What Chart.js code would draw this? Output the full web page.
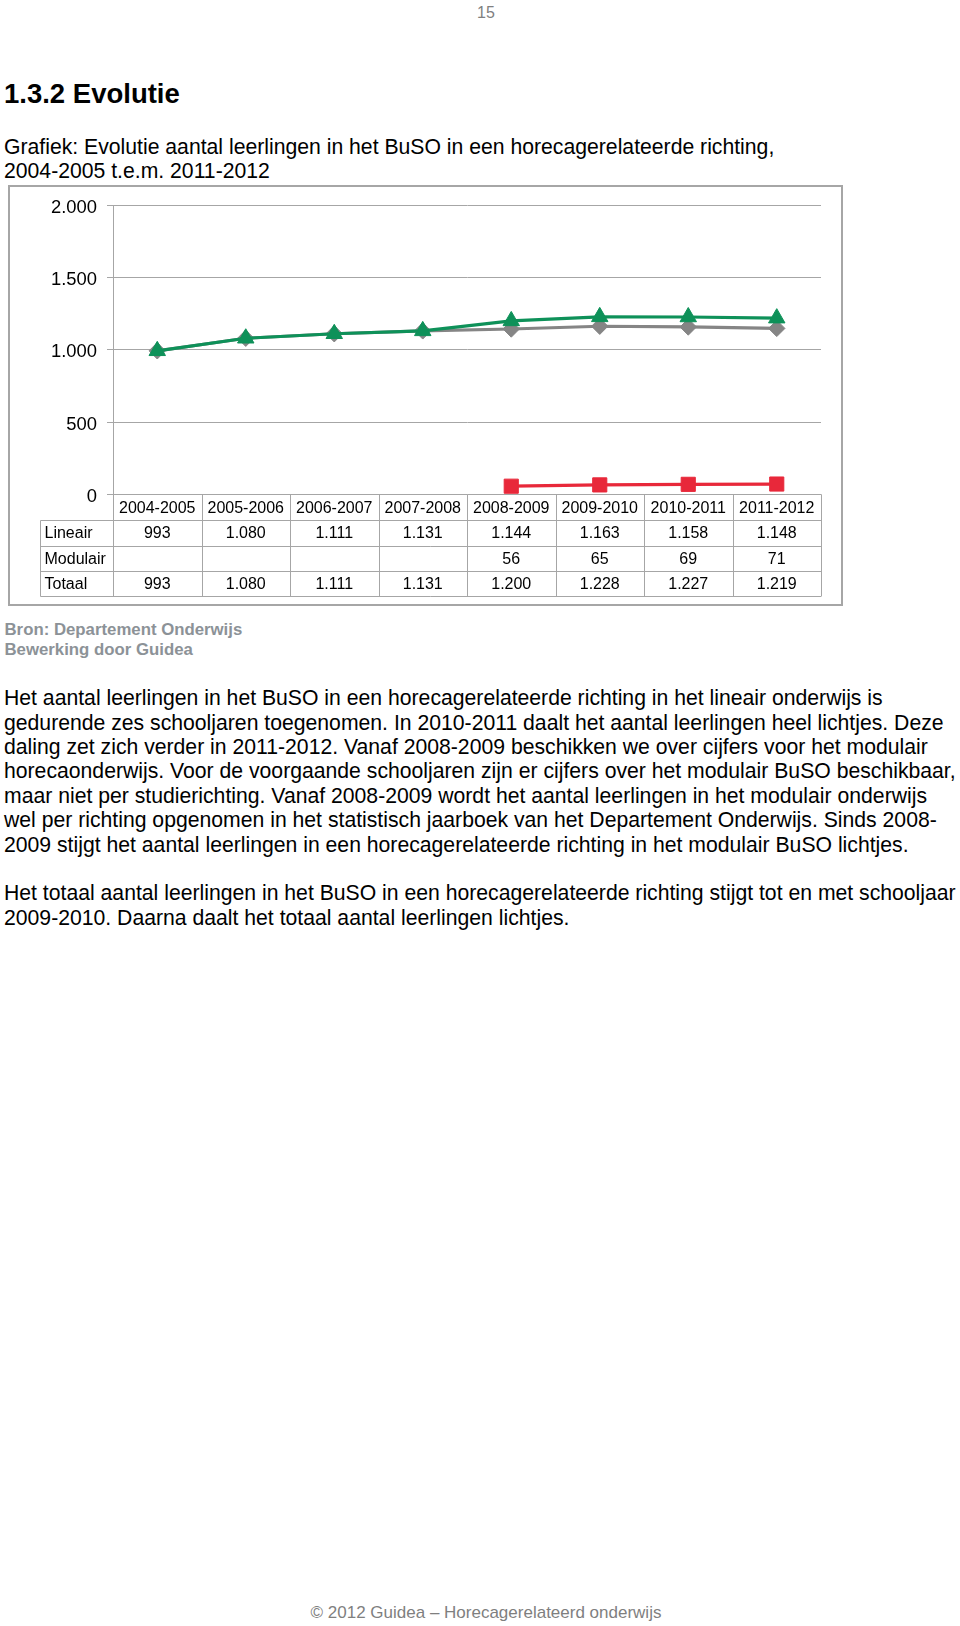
<!DOCTYPE html>
<html><head><meta charset="utf-8">
<script src="https://cdn.jsdelivr.net/npm/chart.js@4.4.1/dist/chart.umd.min.js"></script>
<style>
html,body{margin:0;padding:0;background:#fff;}
body{width:960px;height:1626px;position:relative;overflow:hidden;font-family:'Liberation Sans',Arial,sans-serif;color:#000;}
.t{position:absolute;white-space:nowrap;}
#box{position:absolute;left:8px;top:185px;width:835px;height:421px;box-sizing:border-box;border:2px solid #a6a6a6;}
#wrap{position:absolute;left:0;top:0;width:960px;height:620px;}
</style></head><body>
<div class="t" style="left:436px;width:100px;text-align:center;top:4.6px;font-size:16px;line-height:16px;color:#808080">15</div>
<div class="t" style="left:4px;top:80px;font-size:27.5px;line-height:27.5px;font-weight:bold">1.3.2 Evolutie</div>
<div class="t" style="left:4px;top:135px;font-size:21.2px;line-height:24.4px">Grafiek: Evolutie aantal leerlingen in het BuSO in een horecagerelateerde richting,<br>2004-2005 t.e.m. 2011-2012</div>
<div id="box"></div>
<div id="wrap"><canvas id="c" width="960" height="620"></canvas></div>
<div class="t" style="left:4.5px;top:620.1px;font-size:16.8px;line-height:19.5px;font-weight:bold;color:#8c9297">Bron: Departement Onderwijs<br>Bewerking door Guidea</div>
<div class="t" style="left:4px;top:686.2px;font-size:21.2px;line-height:24.4px">Het aantal leerlingen in het BuSO in een horecagerelateerde richting in het lineair onderwijs is<br>gedurende zes schooljaren toegenomen. In 2010-2011 daalt het aantal leerlingen heel lichtjes. Deze<br>daling zet zich verder in 2011-2012. Vanaf 2008-2009 beschikken we over cijfers voor het modulair<br>horecaonderwijs. Voor de voorgaande schooljaren zijn er cijfers over het modulair BuSO beschikbaar,<br>maar niet per studierichting. Vanaf 2008-2009 wordt het aantal leerlingen in het modulair onderwijs<br>wel per richting opgenomen in het statistisch jaarboek van het Departement Onderwijs. Sinds 2008-<br>2009 stijgt het aantal leerlingen in een horecagerelateerde richting in het modulair BuSO lichtjes.<br><br>Het totaal aantal leerlingen in het BuSO in een horecagerelateerde richting stijgt tot en met schooljaar<br>2009-2010. Daarna daalt het totaal aantal leerlingen lichtjes.</div>
<div class="t" style="left:186px;width:600px;text-align:center;top:1603.6px;font-size:17px;line-height:17px;color:#7f7f7f">© 2012 Guidea – Horecagerelateerd onderwijs</div>
<script>
const categories = ['2004-2005','2005-2006','2006-2007','2007-2008','2008-2009','2009-2010','2010-2011','2011-2012'];
const lineair  = [993, 1080, 1111, 1131, 1144, 1163, 1158, 1148];
const modulair = [null, null, null, null, 56, 65, 69, 71];
const totaal   = [993, 1080, 1111, 1131, 1200, 1228, 1227, 1219];
const rowLabels = ['Lineair', 'Modulair', 'Totaal'];
const yMin = 0, yMax = 2000, yStep = 500;

const FONT = "'Liberation Sans', Arial, sans-serif";
function fmt(v){ return v == null ? '' : String(v).replace(/\B(?=(\d{3})+(?!\d))/g, '.'); }

const tablePlugin = {
  id: 'dataTable',
  afterDraw(chart){
    const ctx = chart.ctx, x = chart.scales.x, area = chart.chartArea;
    const n = categories.length;
    const step = x.getPixelForValue(1) - x.getPixelForValue(0);
    const bounds = [];
    for (let i = 0; i < n; i++) bounds.push(x.getPixelForValue(i) - step / 2);
    bounds.push(x.getPixelForValue(n - 1) + step / 2);
    const y0 = area.bottom;
    const rowsY = [y0, y0 + 26, y0 + 51.2, y0 + 76.4, y0 + 101.6];
    const labelLeft = 40.5;
    ctx.save();
    ctx.strokeStyle = '#a6a6a6';
    ctx.lineWidth = 1;
    ctx.beginPath();
    for (let r = 1; r < rowsY.length; r++) {
      const yy = Math.round(rowsY[r]) + 0.5;
      ctx.moveTo(labelLeft, yy); ctx.lineTo(bounds[n], yy);
    }
    for (let i = 0; i <= n; i++) {
      const xx = Math.round(bounds[i]) + 0.5;
      ctx.moveTo(xx, y0); ctx.lineTo(xx, Math.round(rowsY[4]) + 0.5);
    }
    ctx.moveTo(labelLeft, Math.round(rowsY[1]) + 0.5); ctx.lineTo(labelLeft, Math.round(rowsY[4]) + 0.5);
    ctx.stroke();

    ctx.fillStyle = '#000';
    ctx.font = '16px ' + FONT;
    ctx.textBaseline = 'middle';
    ctx.textAlign = 'center';
    for (let i = 0; i < n; i++) ctx.fillText(categories[i], x.getPixelForValue(i), (rowsY[0] + rowsY[1]) / 2 + 1);
    const series = [lineair, modulair, totaal];
    for (let r = 0; r < 3; r++) {
      const cy = (rowsY[r + 1] + rowsY[r + 2]) / 2 + 1;
      ctx.textAlign = 'left';
      ctx.fillText(rowLabels[r], labelLeft + 4, cy);
      ctx.textAlign = 'center';
      for (let i = 0; i < n; i++) ctx.fillText(fmt(series[r][i]), x.getPixelForValue(i), cy);
    }
    ctx.restore();
  }
};

new Chart(document.getElementById('c'), {
  type: 'line',
  data: {
    labels: categories,
    datasets: [
      { label: rowLabels[0], data: lineair, order: 3, borderColor: '#858585', backgroundColor: '#858585',
        borderWidth: 3.2, pointStyle: 'rectRot', pointRadius: 8.2, pointBorderWidth: 1, tension: 0 },
      { label: rowLabels[1], data: modulair, order: 2, borderColor: '#e8283a', backgroundColor: '#e8283a',
        borderWidth: 3.2, pointStyle: 'rect', pointRadius: 10, pointBorderWidth: 1, tension: 0 },
      { label: rowLabels[2], data: totaal, order: 1, borderColor: '#0e9159', backgroundColor: '#0e9159',
        borderWidth: 3.2, pointStyle: 'triangle', pointRadius: 9.5, pointBorderWidth: 1, tension: 0 }
    ]
  },
  options: {
    responsive: false,
    animation: false,
    events: [],
    layout: { padding: { top: 205.3, right: 139, bottom: 0, left: 0 } },
    plugins: { legend: { display: false }, tooltip: { enabled: false }, title: { display: false } },
    scales: {
      x: {
        offset: true,
        grid: { display: false, drawTicks: false },
        border: { display: false },
        ticks: { display: false },
        afterFit: s => { s.height = 620 - 494.3; }
      },
      y: {
        min: yMin, max: yMax,
        afterFit: s => { s.width = 113; },
        grid: { color: '#a6a6a6', lineWidth: 1, tickLength: 6, drawTicks: true },
        border: { display: true, color: '#a6a6a6', width: 1 },
        ticks: { stepSize: yStep, padding: 10, labelOffset: 2.5, color: '#000', font: { family: FONT, size: 18.4 }, callback: v => fmt(v) }
      }
    }
  },
  plugins: [tablePlugin]
});
</script>
</body></html>
